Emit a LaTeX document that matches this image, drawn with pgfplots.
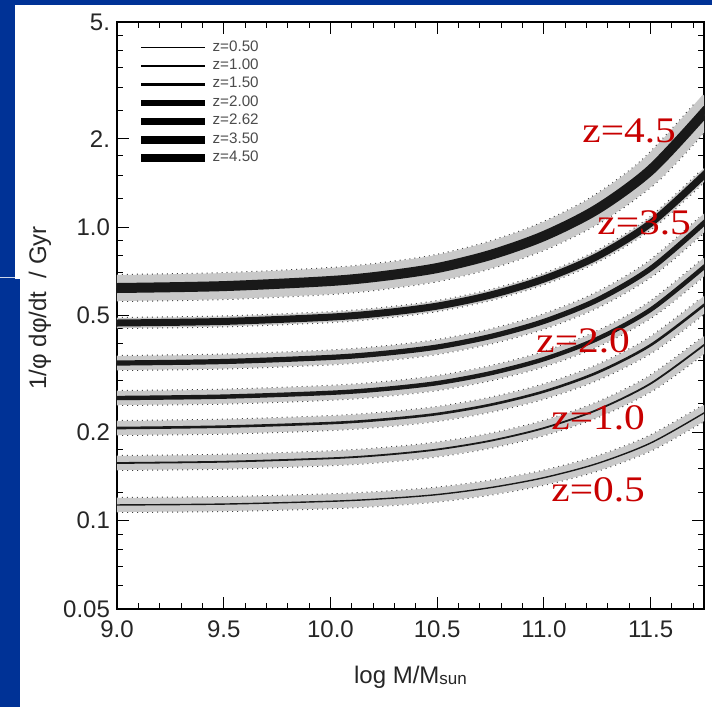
\documentclass[border=0pt]{standalone}
\usepackage{fontspec}
\setmainfont{Liberation Sans}
\newfontfamily\serifred{Liberation Serif}
\usepackage{graphicx}
\usepackage{pgfplots}
\pgfplotsset{compat=1.18}
\usepackage{pgfplotstable}
\definecolor{slideblue}{RGB}{0,50,150}
\definecolor{zred}{RGB}{200,0,0}

\pgfplotstableread{
x y
9.00 0.1131
9.50 0.1139
10.00 0.1164
10.25 0.1188
10.50 0.1227
10.75 0.1296
11.00 0.1401
11.25 0.1566
11.50 0.1839
11.75 0.2327
}\tzA
\pgfplotstableread{
x y
9.00 0.1572
9.50 0.1588
10.00 0.1631
10.25 0.1675
10.50 0.1748
10.75 0.1872
11.00 0.2068
11.25 0.2386
11.50 0.2932
11.75 0.3967
}\tzB
\pgfplotstableread{
x y
9.00 0.2068
9.50 0.2091
10.00 0.2150
10.25 0.2211
10.50 0.2309
10.75 0.2482
11.00 0.2754
11.25 0.3197
11.50 0.3964
11.75 0.5429
}\tzC
\pgfplotstableread{
x y
9.00 0.2617
9.50 0.2646
10.00 0.2726
10.25 0.2808
10.50 0.2942
10.75 0.3179
11.00 0.3551
11.25 0.4162
11.50 0.5233
11.75 0.7315
}\tzD
\pgfplotstableread{
x y
9.00 0.3444
9.50 0.3485
10.00 0.3599
10.25 0.3716
10.50 0.3905
10.75 0.4241
11.00 0.4773
11.25 0.5650
11.50 0.7223
11.75 1.0330
}\tzE
\pgfplotstableread{
x y
9.00 0.4714
9.50 0.4773
10.00 0.4937
10.25 0.5107
10.50 0.5382
10.75 0.5872
11.00 0.6658
11.25 0.7955
11.50 1.0314
11.75 1.5055
}\tzF
\pgfplotstableread{
x y
9.00 0.6204
9.50 0.6297
10.00 0.6554
10.25 0.6821
10.50 0.7257
10.75 0.8043
11.00 0.9329
11.25 1.1521
11.50 1.5657
11.75 2.4486
}\tzG

\begin{document}
\begin{tikzpicture}
% slide background
\fill[white] (-58.5pt,-49pt) rectangle (297.5pt,304.5pt);
\fill[slideblue] (-58.5pt,302pt) rectangle (297.5pt,304.5pt);
\fill[slideblue] (-58.5pt,-49pt) rectangle (-51pt,304.5pt);
\fill[slideblue] (-58.5pt,-49pt) rectangle (-48.5pt,165pt);
\draw[white!80!slideblue, line width=0.6pt] (-58.5pt,165.8pt) -- (-51pt,165.8pt);

\begin{axis}[
  at={(0pt,0pt)}, anchor=south west,
  scale only axis, width=293.5pt, height=293.5pt,
  xmin=9, xmax=11.75, ymode=log, ymin=0.05, ymax=5,
  axis line style={line width=0.6pt},
  every tick/.style={black, line width=0.5pt},
  tick align=inside,
  major tick length=6pt, minor tick length=3pt,
  xtick={9,9.5,10,10.5,11,11.5},
  xticklabels={9.0,9.5,10.0,10.5,11.0,11.5},
  minor xtick={9.1,9.2,9.3,9.4,9.6,9.7,9.8,9.9,10.1,10.2,10.3,10.4,10.6,10.7,10.8,10.9,11.1,11.2,11.3,11.4,11.6,11.7},
  ytick={0.05,0.1,0.2,0.5,1,2,5},
  yticklabels={0.05,0.1,0.2,0.5,1.0,2.,5.},
  minor ytick={0.06,0.07,0.08,0.09,0.125,0.15,0.175,0.25,0.3,0.35,0.4,0.45,0.6,0.7,0.8,0.9,1.25,1.5,1.75,2.5,3,3.5,4,4.5},
  /pgf/number format/assume math mode=true,
  tick label style={font=\fontsize{12}{14}\selectfont, text=black!85},
  xticklabel style={yshift=-2.5pt},
  xlabel={log M/M\raisebox{-0.8pt}{\fontsize{8.5}{9}\selectfont sun}},
  xlabel style={at={(rel axis cs:0.5,0)}, anchor=base, yshift=-37pt, font=\fontsize{12}{14}\selectfont, text=black!85},
  ylabel={1/φ dφ/dt\ \ / Gyr},
  ylabel style={at={([xshift=-38.5pt]rel axis cs:0,0.513)}, anchor=center, font=\fontsize{12}{14}\selectfont, text=black!85},
  legend image code/.code={\draw[#1] (0pt,0pt) -- (32pt,0pt);},
  legend style={at={(rel axis cs:0,1)}, anchor=north west, xshift=10pt, yshift=-9.5pt,
    draw=none, fill=none, inner sep=0pt, font=\fontsize{7.6}{8}\selectfont, text=black!70,
    row sep=3pt, column sep=1pt,
    nodes={inner sep=0.6pt, text height=4.2pt, text depth=0.8pt}},
  legend cell align=left,
]
% bands: dotted edges + grey fill
\addplot[forget plot, no marks, smooth, draw=black!75, line width=14pt, dash pattern=on 0.5pt off 2pt] table {\tzG};
\addplot[forget plot, no marks, smooth, draw=gray!42, line width=13pt, line cap=rect] table {\tzG};
\addplot[forget plot, no marks, smooth, draw=black!75, line width=6pt, dash pattern=on 0.5pt off 2pt] table {\tzF};
\addplot[forget plot, no marks, smooth, draw=gray!42, line width=5pt, line cap=rect] table {\tzF};
\addplot[forget plot, no marks, smooth, draw=black!75, line width=8pt, dash pattern=on 0.5pt off 2pt] table {\tzE};
\addplot[forget plot, no marks, smooth, draw=gray!42, line width=7pt, line cap=rect] table {\tzE};
\addplot[forget plot, no marks, smooth, draw=black!75, line width=8pt, dash pattern=on 0.5pt off 2pt] table {\tzD};
\addplot[forget plot, no marks, smooth, draw=gray!42, line width=7pt, line cap=rect] table {\tzD};
\addplot[forget plot, no marks, smooth, draw=black!75, line width=8pt, dash pattern=on 0.5pt off 2pt] table {\tzC};
\addplot[forget plot, no marks, smooth, draw=gray!42, line width=7pt, line cap=rect] table {\tzC};
\addplot[forget plot, no marks, smooth, draw=black!75, line width=8pt, dash pattern=on 0.5pt off 2pt] table {\tzB};
\addplot[forget plot, no marks, smooth, draw=gray!42, line width=7pt, line cap=rect] table {\tzB};
\addplot[forget plot, no marks, smooth, draw=black!75, line width=8pt, dash pattern=on 0.5pt off 2pt] table {\tzA};
\addplot[forget plot, no marks, smooth, draw=gray!42, line width=7pt, line cap=rect] table {\tzA};
% central curves
\addplot[forget plot, no marks, smooth, black!90, line width=0.7pt, line cap=rect] table {\tzA};
\addplot[forget plot, no marks, smooth, black!90, line width=0.9pt, line cap=rect] table {\tzB};
\addplot[forget plot, no marks, smooth, black!90, line width=1.3pt, line cap=rect] table {\tzC};
\addplot[forget plot, no marks, smooth, black!90, line width=2.2pt, line cap=rect] table {\tzD};
\addplot[forget plot, no marks, smooth, black!90, line width=2.6pt, line cap=rect] table {\tzE};
\addplot[forget plot, no marks, smooth, black!90, line width=3.5pt, line cap=rect] table {\tzF};
\addplot[forget plot, no marks, smooth, black!90, line width=5pt, line cap=rect] table {\tzG};
% legend
\addlegendimage{black, line width=0.5pt}\addlegendentry{z=0.50}
\addlegendimage{black, line width=0.6pt}\addlegendentry{z=1.00}
\addlegendimage{black, line width=1.3pt}\addlegendentry{z=1.50}
\addlegendimage{black, line width=3.3pt}\addlegendentry{z=2.00}
\addlegendimage{black, line width=3.3pt}\addlegendentry{z=2.62}
\addlegendimage{black, line width=4pt}\addlegendentry{z=3.50}
\addlegendimage{black, line width=4pt}\addlegendentry{z=4.50}
\end{axis}

% red curve labels
\begin{scope}[every node/.style={text=zred, inner sep=0pt, anchor=base west, font=\serifred\fontsize{18}{18}\selectfont}]
\node at (232.5pt,233pt) {\scalebox{1.15}[1]{z=4.5}};
\node at (240pt,187pt) {\scalebox{1.15}[1]{z=3.5}};
\node at (209.5pt,128pt) {\scalebox{1.15}[1]{z=2.0}};
\node at (217pt,89.5pt) {\scalebox{1.15}[1]{z=1.0}};
\node at (217pt,53.5pt) {\scalebox{1.15}[1]{z=0.5}};
\end{scope}

\pgfresetboundingbox
\path[use as bounding box] (-58.5pt,-49pt) rectangle (297.5pt,304.5pt);
\end{tikzpicture}
\end{document}
